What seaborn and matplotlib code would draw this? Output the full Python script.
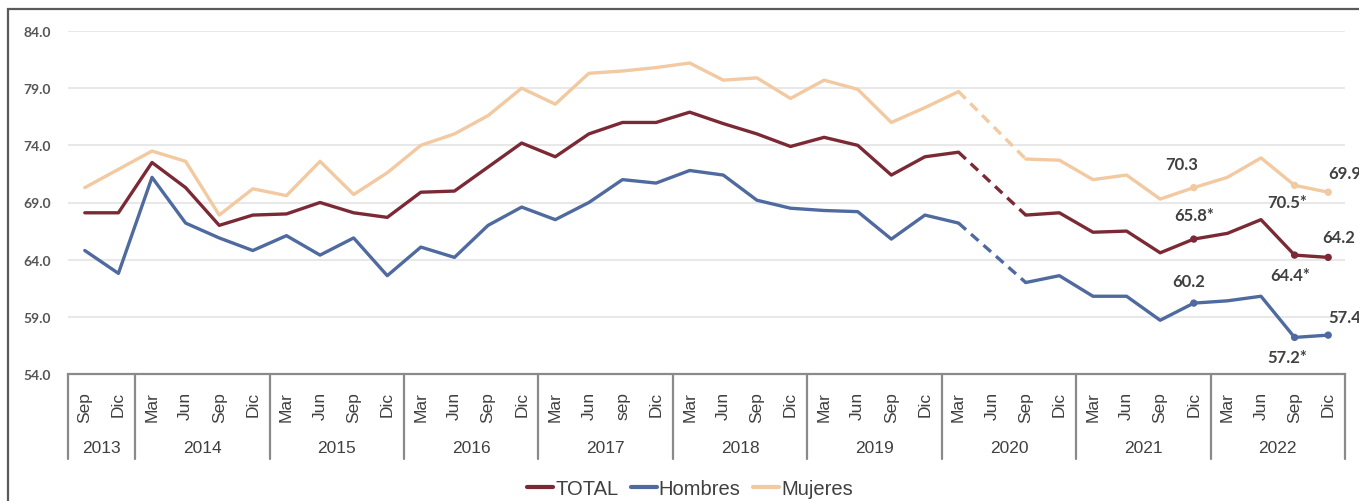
import matplotlib
matplotlib.use("Agg")
import matplotlib.pyplot as plt
import matplotlib.transforms as mtransforms
from matplotlib import font_manager
from matplotlib.patches import Rectangle
import numpy as np
import pandas as pd
import seaborn as sns

# Datos (Jun 2020 sin dato)
anios = ["2013", "2014", "2015", "2016", "2017", "2018", "2019", "2020", "2021", "2022"]
trim_por_anio = [2, 4, 4, 4, 4, 4, 4, 4, 4, 4]
trimestres = (["Sep", "Dic"]
              + ["Mar", "Jun", "Sep", "Dic"] * 3
              + ["Mar", "Jun", "sep", "Dic"]
              + ["Mar", "Jun", "Sep", "Dic"] * 5)

total = [68.1, 68.1, 72.5, 70.3, 67.0, 67.9, 68.0, 69.0, 68.1, 67.7,
         69.9, 70.0, 72.1, 74.2, 73.0, 75.0, 76.0, 76.0, 76.9, 75.9,
         75.0, 73.9, 74.7, 74.0, 71.4, 73.0, 73.4, np.nan, 67.9, 68.1,
         66.4, 66.5, 64.6, 65.8, 66.3, 67.5, 64.4, 64.2]
hombres = [64.8, 62.8, 71.2, 67.2, 65.9, 64.8, 66.1, 64.4, 65.9, 62.6,
           65.1, 64.2, 67.0, 68.6, 67.5, 69.0, 71.0, 70.7, 71.8, 71.4,
           69.2, 68.5, 68.3, 68.2, 65.8, 67.9, 67.2, np.nan, 62.0, 62.6,
           60.8, 60.8, 58.7, 60.2, 60.4, 60.8, 57.2, 57.4]
mujeres = [70.3, 71.9, 73.5, 72.6, 67.9, 70.2, 69.6, 72.6, 69.7, 71.6,
           74.0, 75.0, 76.6, 79.0, 77.6, 80.3, 80.5, 80.8, 81.2, 79.7,
           79.9, 78.1, 79.7, 78.9, 76.0, 77.3, 78.7, np.nan, 72.8, 72.7,
           71.0, 71.4, 69.3, 70.3, 71.2, 72.9, 70.5, 69.9]

series = ["TOTAL", "Hombres", "Mujeres"]
# puntos marcados y sus etiquetas (Dic 2021, Sep 2022, Dic 2022)
puntos_marcados = [33, 36, 37]
etiquetas = {
    "TOTAL": ["65.8*", "64.4*", "64.2"],
    "Hombres": ["60.2", "57.2*", "57.4"],
    "Mujeres": ["70.3", "70.5*", "69.9"],
}

colores = {"TOTAL": "#7b2a35", "Hombres": "#4f6a9f", "Mujeres": "#f2c9a0"}
# desplazamiento (pt) y alineación de cada etiqueta
offsets = {
    "TOTAL": [((0, 17), "center"), ((-3, -14), "center"), ((-4, 15), "left")],
    "Hombres": [((-4, 16), "center"), ((-5, -14), "center"), ((0, 13), "left")],
    "Mujeres": [((-9, 17), "center"), ((-5, -12), "center"), ((0, 14), "left")],
}

# fuentes
nombres = {f.name for f in font_manager.fontManager.ttflist}
narrow = "Liberation Sans Narrow" if "Liberation Sans Narrow" in nombres else "Liberation Sans"
tam_cat = 14 if narrow == "Liberation Sans Narrow" else 12.5
gris_txt = "#404040"
gris_eje = "#8a8a8a"

sns.set_style("white")
plt.rcParams["font.family"] = ["Liberation Sans", "DejaVu Sans"]

# tabla larga
n = len(trimestres)
gap = int(np.where(np.isnan(total))[0][0])
filas = []
for nombre, valores in zip(series, [total, hombres, mujeres]):
    for i, v in enumerate(valores):
        filas.append({"pos": i, "valor": v, "serie": nombre,
                      "tramo": 0 if i < gap else 1})
df = pd.DataFrame(filas)
df_linea = df.dropna()
df_guion = df[df["pos"].isin([gap - 1, gap + 1])]
df_puntos = df[df["pos"].isin(puntos_marcados)]

fig = plt.figure(figsize=(13.59, 5.02), dpi=100)
ax = fig.add_axes([68 / 1359, 1 - 375 / 502, (1345 - 68) / 1359, (375 - 32) / 502])

sns.lineplot(data=df_linea, x="pos", y="valor", hue="serie", units="tramo",
             estimator=None, palette=colores, hue_order=series, lw=2.4,
             sort=True, ax=ax)
# tramo sin dato (Jun 2020) en línea discontinua
sns.lineplot(data=df_guion, x="pos", y="valor", hue="serie",
             estimator=None, palette=colores, hue_order=series, lw=2.4,
             linestyle=(0, (3, 2)), legend=False, ax=ax)
sns.scatterplot(data=df_puntos, x="pos", y="valor", hue="serie",
                palette=colores, hue_order=series, s=28, edgecolor="none",
                legend=False, ax=ax, zorder=5)

for nombre, valores in zip(series, [total, hombres, mujeres]):
    for k, idx in enumerate(puntos_marcados):
        (dx, dy), ha = offsets[nombre][k]
        ax.annotate(etiquetas[nombre][k], xy=(idx, valores[idx]),
                    xytext=(dx, dy), textcoords="offset points",
                    ha=ha, va="center", fontsize=12, fontweight="bold",
                    family="Lato", color=gris_txt, annotation_clip=False)

# eje y
ax.set_ylim(54, 84)
ax.set_yticks(np.arange(54, 85, 5))
ax.set_yticklabels([f"{v:.1f}" for v in np.arange(54, 85, 5)],
                   fontsize=10, fontweight="bold", family="Lato", color="#555555")
ax.tick_params(axis="y", length=0, pad=12)
ax.grid(axis="y", color="#e8e8e8", lw=1.5)
ax.set_axisbelow(True)

# eje x con meses y años
ax.set_xlim(-0.5, n - 0.5)
ax.set_xticks(range(n))
ax.set_xticklabels(trimestres, rotation=90, fontsize=tam_cat, family=narrow,
                   color=gris_txt)
ax.tick_params(axis="x", length=0, pad=12)
ax.set_xlabel("")
ax.set_ylabel("")

for lado in ["top", "right", "left"]:
    ax.spines[lado].set_visible(False)
ax.spines["bottom"].set_color(gris_eje)
ax.spines["bottom"].set_linewidth(1.6)

blend = mtransforms.blended_transform_factory(ax.transData, ax.transAxes)
bordes = np.concatenate([[0], np.cumsum(trim_por_anio)]) - 0.5
for b in bordes:
    ax.plot([b, b], [0, -0.248], transform=blend, clip_on=False,
            color=gris_eje, lw=1.6)
for a, ini, fin in zip(anios, bordes[:-1], bordes[1:]):
    ax.text((ini + fin) / 2, -0.213, a, transform=blend, ha="center",
            va="center", fontsize=tam_cat, family=narrow, color=gris_txt)

# leyenda
sns.move_legend(ax, "center", bbox_to_anchor=(0.487, -0.335), ncol=3,
                frameon=False, title=None, handlelength=1.3,
                handletextpad=0.1, columnspacing=0.6,
                prop={"family": narrow, "size": tam_cat + 2})
for t in ax.get_legend().get_texts():
    t.set_color(gris_txt)
for h in ax.get_legend().get_lines():
    h.set_linewidth(3)

# marco exterior
fig.add_artist(Rectangle((8 / 1359, -0.05), 1.1, 0.981 + 0.05,
                         transform=fig.transFigure, fill=False,
                         ec="#5a5a5a", lw=1.6, clip_on=False))

fig.savefig("out.png", dpi=100)
